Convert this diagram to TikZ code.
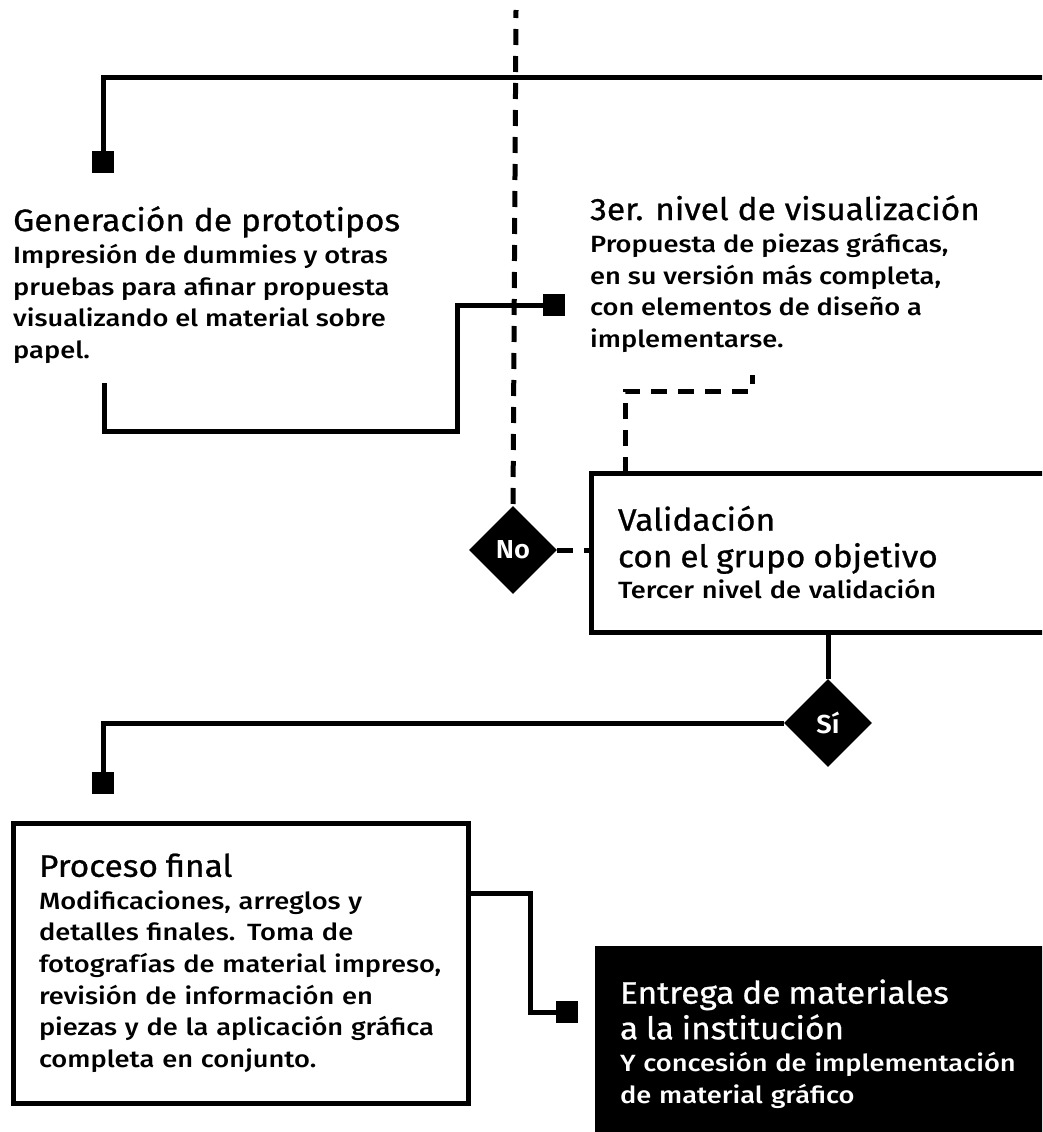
\documentclass[tikz,border=0pt]{standalone}
\usepackage{fontspec}
\setmainfont{Fira Sans}[FakeStretch=1.08, FakeBold=0.8]
\newfontfamily\cuerpofam{Fira Sans}[UprightFont=* Medium, FakeStretch=1.16]
\newfontfamily\rombofam{Fira Sans}[UprightFont=* SemiBold, FakeStretch=1.05]
\usetikzlibrary{shapes.geometric,calc}

\newcommand{\cuerpo}{\cuerpofam\fontsize{23.5}{31.6}\selectfont}
\newcommand{\titulo}[1]{{\rmfamily\fontsize{31}{37}\selectfont #1}}

\tikzset{
  linea/.style={line width=5pt},
  guion/.style={line width=5pt, dash pattern=on 16pt off 11pt},
  caja/.style={draw, line width=5pt, outer sep=0pt, anchor=north west,
    align=left, inner ysep=0pt, font=\cuerpo},
  texto/.style={anchor=north west, align=left, inner sep=0pt, font=\cuerpo},
  rombo/.style={diamond, fill=black, text=white, minimum size=88pt,
    inner sep=0pt, font=\rombofam\fontsize{26}{26}\selectfont},
  cuadro/.style={fill=black, minimum size=22pt, inner sep=0pt}
}

\begin{document}
\begin{tikzpicture}[x=1pt,y=-1pt]
  \useasboundingbox (0,0) rectangle (1042,1132);
  \clip (0,0) rectangle (1042,1132);

  % textos y cajas
  \node[texto] (gen) at (13,206) {\titulo{Generación de prototipos}\\[1pt]
    Impresión de dummies y otras\\
    \mbox{pruebas para afinar propuesta}\\
    visualizando el material sobre\\
    papel.};
  \node[texto] (vis) at (590,195) {\titulo{3er. nivel de visualización}\\[1pt]
    Propuesta de piezas gráficas,\\
    en su versión más completa,\\
    con elementos de diseño a\\
    implementarse.};
  \node[caja, text width=430pt, inner xsep=27pt, minimum height=159pt]
    (valid) at (591,473) {\titulo{Validación}\\[5pt]
    \titulo{con el grupo objetivo}\\
    Tercer nivel de validación};
  \node[caja, text width=403pt, inner xsep=26pt, minimum height=280pt]
    (proc) at (13,823) {\titulo{Proceso final}\\[1pt]
    Modificaciones, arreglos y\\
    detalles finales. Toma de\\
    \mbox{fotografías de material impreso,}\\
    revisión de información en\\
    \mbox{piezas y de la aplicación gráfica}\\
    completa en conjunto.};
  \node[caja, draw=none, fill=black, text=white, text width=440pt,
    inner xsep=25pt, minimum height=196pt]
    (entrega) at (595,946) {\titulo{Entrega de materiales}\\[4pt]
    \titulo{a la institución}\\[1pt]
    \mbox{Y concesión de implementación}\\
    de material gráfico};

  % decisiones y remates
  \node[rombo] (no) at (513,550) {No};
  \node[rombo] (si) at (828,723) {Sí};
  \node[cuadro] (c1) at (103,162) {};
  \node[cuadro] (c2) at (554,305) {};
  \node[cuadro] (c3) at (103,783) {};
  \node[cuadro] (c4) at (567,1012) {};

  % conectores
  \coordinate (arriba) at (516,10);
  \coordinate (esq) at (1050,77);
  \coordinate (g1) at (104,383);
  \coordinate (g2) at (457,431);
  \coordinate (v1) at (625,391);
  \coordinate (v2) at (752,375);
  \coordinate (p1) at (530,893);

  \draw[guion, dash phase=8pt] (arriba) -- (no.north);
  \draw[linea] (esq) -| (c1.north);
  \draw[linea] (g1) |- (g2) |- (c2.west);
  \draw[guion] (valid.north -| v1) -- (v1) -| (v2);
  \draw[guion] (no.east) -- (no.east -| valid.west);
  \draw[linea] (valid.south -| si.north) -- (si.north);
  \draw[linea] (si.west) -| (c3.north);
  \draw[linea] (proc.east |- p1) -- (p1) |- (c4.west);
\end{tikzpicture}
\end{document}
